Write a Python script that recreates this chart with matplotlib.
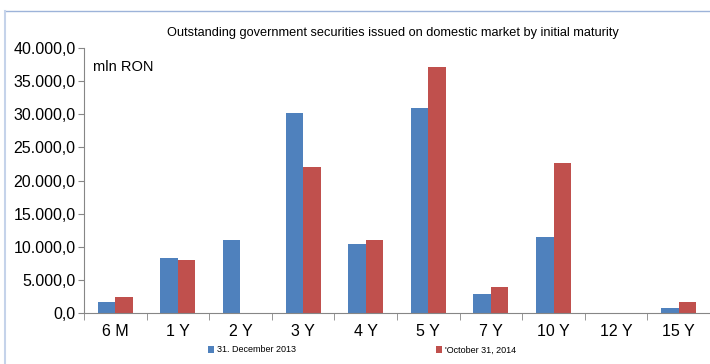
import numpy as np
import matplotlib.pyplot as plt
from matplotlib.lines import Line2D
from matplotlib.ticker import FuncFormatter

plt.rcParams['font.family'] = ['Liberation Sans', 'DejaVu Sans']

# outstanding securities, mln RON, by initial maturity
maturities = ['6 M', '1 Y', '2 Y', '3 Y', '4 Y', '5 Y', '7 Y', '10 Y', '12 Y', '15 Y']
dec_2013 = [1600, 8300, 11000, 30200, 10400, 30900, 2900, 11400, 60, 800]
oct_2014 = [2400, 8000, 0, 22000, 11000, 37100, 3900, 22600, 60, 1600]

blue = '#4f81bd'
red = '#c0504d'
axis_grey = '#868686'

fig = plt.figure(figsize=(7.10, 3.64), dpi=100)
ax = fig.add_axes([84 / 710, 1 - 313 / 364, 626 / 710, 265 / 364])

x = np.arange(len(maturities))
w = 0.28
ax.bar(x - w / 2, dec_2013, w, color=blue, label='31. December 2013')
ax.bar(x + w / 2, oct_2014, w, color=red, label="'October 31, 2014")

ax.set_xlim(-0.5, len(maturities) - 0.5)
ax.set_ylim(0, 40000)
ax.set_yticks(np.arange(0, 40001, 5000))
ax.yaxis.set_major_formatter(FuncFormatter(lambda v, p: f'{v:,.1f}'.replace(',', ' ').replace('.', ',').replace(' ', '.')))
ax.tick_params(axis='y', labelsize=11.5, length=4, color=axis_grey, pad=2)

# category labels centred, tick marks on the boundaries
ax.set_xticks(x)
ax.set_xticklabels(maturities, fontsize=11.5)
ax.set_xticks(np.arange(-0.5, len(maturities)), minor=True)
ax.tick_params(axis='x', which='major', length=0, pad=8)
ax.tick_params(axis='x', which='minor', length=5, color=axis_grey)

for s in ['top', 'right']:
    ax.spines[s].set_visible(False)
for s in ['left', 'bottom']:
    ax.spines[s].set_color(axis_grey)

ax.text(0.015, 0.93, 'mln RON', transform=ax.transAxes, fontsize=10.5, va='center')
fig.text(393 / 710, 1 - 33 / 364, 'Outstanding government securities issued on domestic market by initial maturity',
         ha='center', va='center', fontsize=9.2)

fig.legend(loc='center', bbox_to_anchor=(362 / 710, 1 - 350 / 364), ncol=2, frameon=False,
           fontsize=6.5, handlelength=0.7, handleheight=0.7, columnspacing=15.5, handletextpad=0.3,
           borderpad=0, borderaxespad=0)

# light frame around the chart area
fig.add_artist(Line2D([5 / 710, 1], [1 - 11 / 364] * 2, color='#9db3d9', lw=1))
fig.add_artist(Line2D([5 / 710] * 2, [0, 1 - 11 / 364], color='#c5d3ea', lw=1.5))

fig.savefig('out.png', dpi=100)
